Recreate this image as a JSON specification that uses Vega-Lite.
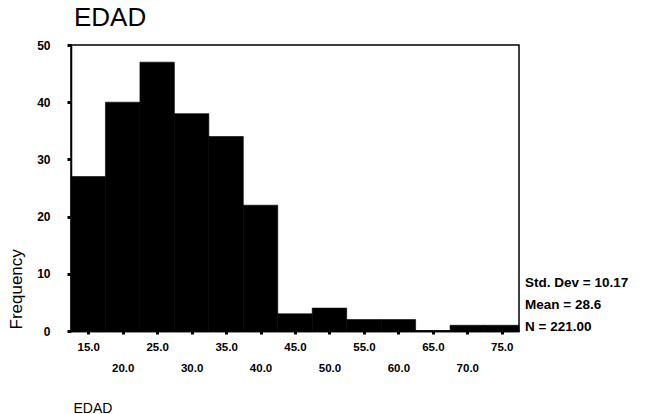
{
  "$schema": "https://vega.github.io/schema/vega-lite/v6.json",
  "width": 448,
  "height": 286,
  "autosize": {"type": "none"},
  "padding": {"left": 71, "top": 45, "right": 129, "bottom": 83},
  "background": "white",
  "config": {
    "font": "Liberation Sans",
    "view": {"stroke": "black", "strokeWidth": 1.5}
  },
  "title": {
    "text": "EDAD",
    "anchor": "start",
    "frame": "group",
    "fontSize": 26,
    "fontWeight": "normal",
    "font": "Liberation Sans",
    "color": "black",
    "offset": 8,
    "dx": 3
  },
  "resolve": {"axis": {"x": "independent"}},
  "data": {
    "values": [
      {"edad": 15, "freq": 27},
      {"edad": 20, "freq": 40},
      {"edad": 25, "freq": 47},
      {"edad": 30, "freq": 38},
      {"edad": 35, "freq": 34},
      {"edad": 40, "freq": 22},
      {"edad": 45, "freq": 3},
      {"edad": 50, "freq": 4},
      {"edad": 55, "freq": 2},
      {"edad": 60, "freq": 2},
      {"edad": 65, "freq": 0},
      {"edad": 70, "freq": 1},
      {"edad": 75, "freq": 1}
    ]
  },
  "layer": [
    {
      "transform": [
        {"calculate": "datum.edad - 2.5", "as": "lo"},
        {"calculate": "datum.edad + 2.5", "as": "hi"}
      ],
      "mark": {"type": "rect", "color": "black", "stroke": "black", "strokeWidth": 0.6},
      "encoding": {
        "x": {
          "field": "lo",
          "type": "quantitative",
          "scale": {"domain": [12.5, 77.5], "nice": false, "zero": false},
          "axis": {
            "orient": "bottom",
            "values": [15, 25, 35, 45, 55, 65, 75],
            "format": ".1f",
            "title": null,
            "domainColor": "black",
            "domainWidth": 1.5,
            "tickColor": "black",
            "tickSize": 3,
            "tickWidth": 3,
            "grid": false,
            "labelFontSize": 11.5,
            "labelFontWeight": "bold",
            "labelColor": "black",
            "labelFlush": false,
            "labelOverlap": false,
            "labelBaseline": "top",
            "labelPadding": 7
          }
        },
        "x2": {"field": "hi"},
        "y": {
          "field": "freq",
          "type": "quantitative",
          "scale": {"domain": [0, 50], "nice": false},
          "axis": {
            "values": [0, 10, 20, 30, 40, 50],
            "title": "Frequency",
            "titleAngle": -90,
            "titleAlign": "left",
            "titleBaseline": "middle",
            "titleFontSize": 17,
            "titleFontWeight": "normal",
            "titleColor": "black",
            "titleX": -55,
            "titleY": 284,
            "domainColor": "black",
            "domainWidth": 1.5,
            "tickColor": "black",
            "tickSize": 4,
            "tickWidth": 3,
            "grid": false,
            "labelFontSize": 12,
            "labelFontWeight": "bold",
            "labelColor": "black",
            "labelPadding": 17
          }
        },
        "y2": {"datum": 0}
      }
    },
    {
      "data": {
        "values": [
          {"label": "Std. Dev = 10.17", "pos": 8.4},
          {"label": "Mean = 28.6", "pos": 4.5},
          {"label": "N = 221.00", "pos": 0.7}
        ]
      },
      "mark": {"type": "text", "align": "left", "baseline": "middle", "dx": 6, "fontSize": 13.5, "fontWeight": "bold", "color": "black", "clip": false},
      "encoding": {
        "x": {
          "datum": 77.5,
          "type": "quantitative",
          "axis": {
            "orient": "bottom",
            "values": [20, 30, 40, 50, 60, 70],
            "format": ".1f",
            "title": "EDAD",
            "titleAnchor": "start",
            "titleFontSize": 14,
            "titleFontWeight": "normal",
            "titleColor": "black",
            "titleX": 2,
            "titleY": 77,
            "titleBaseline": "middle",
            "domainColor": "black",
            "domainWidth": 1.5,
            "tickColor": "black",
            "tickSize": 3,
            "tickWidth": 3,
            "grid": false,
            "labelFontSize": 11.5,
            "labelFontWeight": "bold",
            "labelColor": "black",
            "labelFlush": false,
            "labelOverlap": false,
            "labelBaseline": "top",
            "labelPadding": 28
          }
        },
        "y": {"field": "pos", "type": "quantitative"},
        "text": {"field": "label"}
      }
    }
  ]
}
